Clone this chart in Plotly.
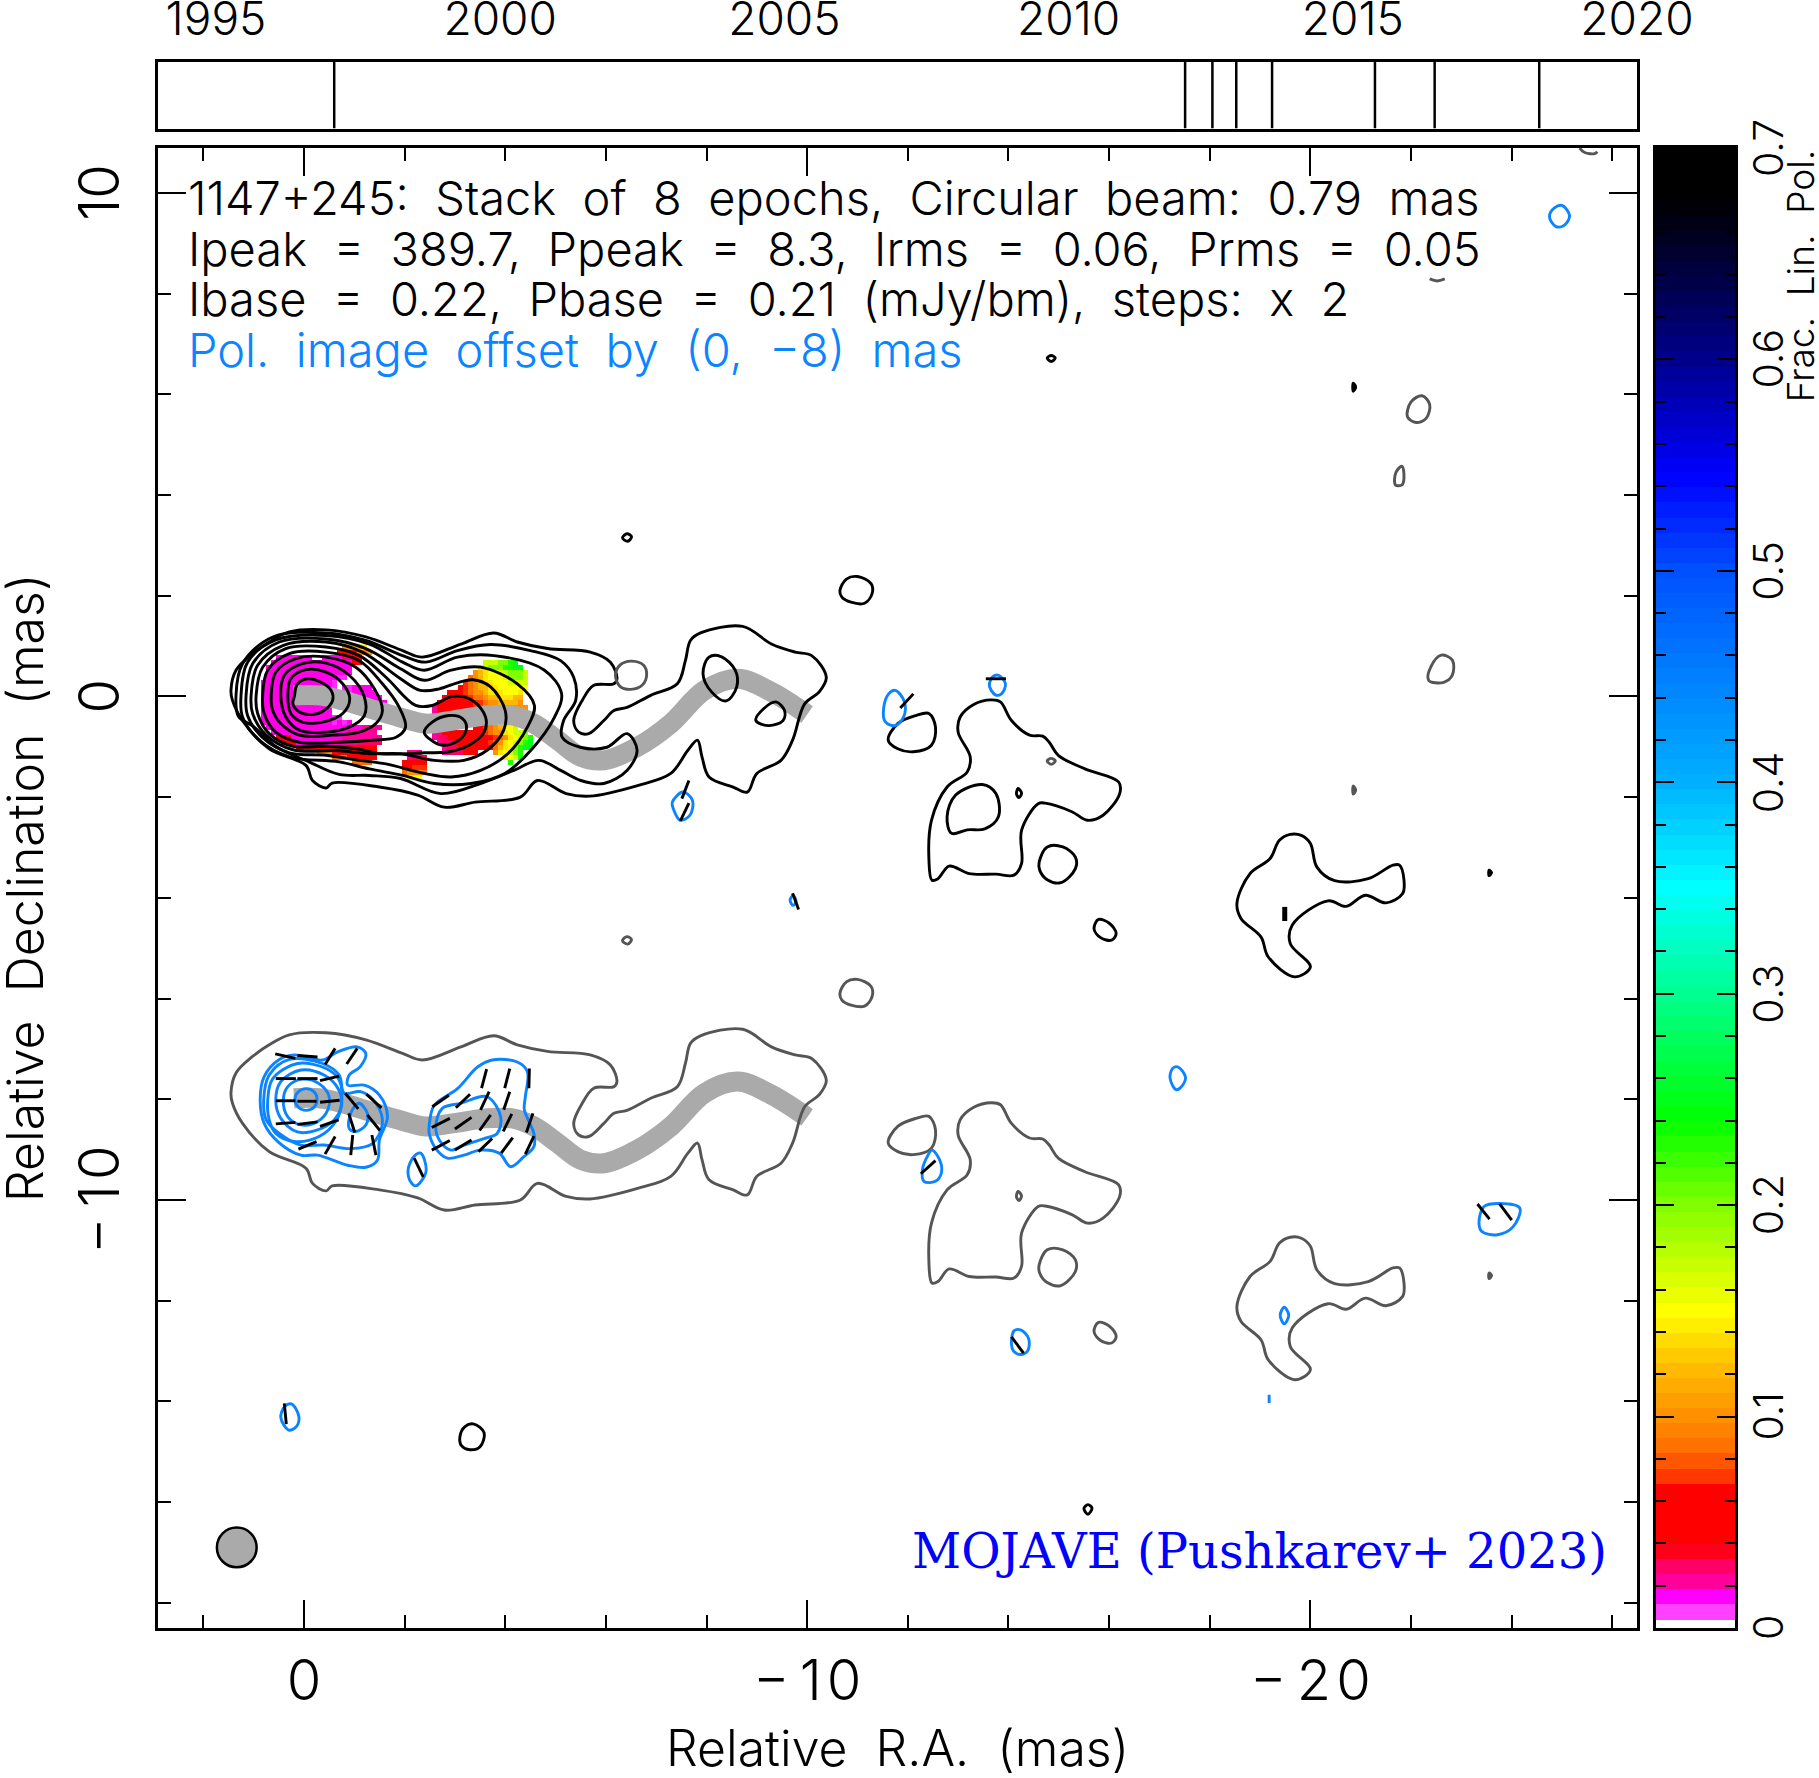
import numpy as np
import plotly.graph_objects as go

# ---------- data (mas, years, fractional polarisation) ----------
EPOCHS = [1997.08, 2012.05, 2012.53, 2012.95, 2013.58, 2015.39, 2016.44, 2018.28]
YEAR_TICKS = [1995, 2000, 2005, 2010, 2015, 2020]
RA_TICKS = [0, -10, -20]
RA_LABELS = ["0", "\u2212\u20091\u200a0", "\u2212\u20092\u200a0"]
DEC_TICKS = [10, 0, -10]
DEC_LABELS = ["10", "0", "\u2212\u20091\u200a0"]
CB_TICKS = [0, .1, .2, .3, .4, .5, .6, .7]
POL_OFFSET = -8
BEAM = 0.79
BEAM_CENTER = (1.335, -16.9)

RIDGE = [(.2,.02),(-.30,.02),(-.77,-.08),(-1.30,-.24),(-1.89,-.41),(-2.42,-.54),(-2.95,-.48),(-3.61,-.38),
         (-4.14,-.38),(-4.57,-.54),(-5.04,-.87),(-5.50,-1.20),(-5.96,-1.27),(-6.63,-1.0),(-7.29,-.54),(-7.96,.12),
         (-8.62,.35),(-9.29,.09),(-10.0,-.36)]

C1 = [(.19,0),(.13,.25),(-.07,.35),(-.34,.28),(-.54,.12),(-.57,-.08),(-.40,-.28),(-.17,-.36),(.09,-.31),(.22,-.15)]
C2 = [(.32,.02),(.26,.35),(-.04,.53),(-.44,.48),(-.77,.25),(-.91,-.05),(-.77,-.34),(-.37,-.51),(.03,-.51),(.26,-.34)]
C3 = [(.46,.02),(.39,.42),(.03,.65),(-.44,.66),(-.90,.42),(-1.20,-.01),(-1.20,-.38),(-.90,-.61),(-.44,-.71),(.09,-.67),(.36,-.41)]
C4 = [(.65,.02),(.56,.48),(.16,.75),(-.44,.78),(-1.03,.58),(-1.40,.15),(-1.56,-.28),(-1.43,-.54),(-1.10,-.71),(-.57,-.77),(.09,-.77),(.46,-.54),(.62,-.28)]
C5 = [(.82,.02),(.72,.52),(.29,.85),(-.44,.88),(-1.10,.71),(-1.56,.25),(-1.89,-.21),(-2.02,-.61),(-1.83,-.81),(-1.36,-.87),(-.70,-.91),(.09,-.91),(.56,-.71),(.79,-.34)]
K2 = [(-2.39,-.71),(-2.55,-.51),(-2.88,-.38),(-3.15,-.44),(-3.23,-.64),(-3.08,-.87),(-2.75,-.97),(-2.49,-.84)]
C6 = [(.95,.02),(.82,.58),(.36,.95),(-.44,.98),(-1.10,.81),(-1.63,.38),(-2.22,-.18),(-2.55,-.18),(-2.95,0),(-3.35,-.08),(-3.61,-.41),(-3.58,-.71),(-3.28,-.97),(-2.88,-1.10),(-2.42,-1.12),(-1.56,-1.14),(-1.03,-1.04),(-.44,-.99),(.22,-.99),(.69,-.74),(.92,-.34)]
C7 = [(1.05,.02),(.92,.62),(.42,1.01),(-.44,1.08),(-1.16,.88),(-1.92,.35),(-2.31,.12),(-2.69,.15),(-3.08,.28),(-3.35,.33),(-3.71,.19),(-4.0,-.28),(-3.97,-.67),(-3.64,-1.07),(-3.18,-1.27),(-2.59,-1.27),(-1.92,-1.14),(-1.30,-1.14),(-.70,-1.08),(.22,-1.06),(.75,-.77),(1.02,-.34)]
C8 = [(1.15,.02),(1.02,.65),(.49,1.08),(-.44,1.14),(-1.23,.95),(-1.92,.55),(-2.39,.32),(-2.92,.52),(-3.51,.58),(-4.24,.25),(-4.58,-.18),(-4.44,-.61),(-4.05,-1.14),(-3.51,-1.47),(-2.92,-1.60),(-2.39,-1.53),(-1.63,-1.34),(-1.10,-1.27),(-.44,-1.17),(.29,-1.12),(.82,-.82),(1.12,-.38)]
C9 = [(1.25,.02),(1.12,.68),(.56,1.12),(-.44,1.21),(-1.30,1.04),(-1.96,.68),(-2.39,.52),(-3.05,.78),(-3.78,.81),(-4.78,.52),(-5.12,.05),(-4.98,-.41),(-4.51,-1.07),(-3.99,-1.53),(-3.32,-1.73),(-2.59,-1.73),(-1.96,-1.57),(-1.30,-1.44),(-.70,-1.30),(.29,-1.20),(.89,-.87),(1.22,-.41)]
C10 = [(1.35,.02),(1.22,.65),(.62,1.18),(-.44,1.26),(-1.23,1.11),(-1.96,.81),(-2.42,.68),(-3.05,.91),(-3.71,1.03),(-4.50,.91),(-5.10,.71),(-5.36,.38),(-5.40,-.08),(-5.16,-.48),(-5.13,-.81),(-5.49,-1.01),(-6.02,-1.01),(-6.42,-.74),(-6.62,-1.07),(-6.42,-1.47),(-5.96,-1.73),(-5.50,-1.67),(-5.10,-1.47),(-4.67,-1.27),(-4.17,-1.47),(-3.51,-1.73),(-2.72,-1.93),(-1.92,-1.63),(-1.30,-1.57),(-.70,-1.55),(-.1,-1.3),(.55,-1.0),(1.0,-.6),(1.3,-.4)]
C11 = [(1.45,.12),(1.35,.52),(1.02,.85),(.69,1.08),(.29,1.28),(-.44,1.32),(-1.23,1.18),(-1.96,.91),(-2.35,.78),(-3.12,1.04),(-3.77,1.26),(-4.24,1.08),(-4.84,.95),(-5.69,.88),(-6.09,.68),(-6.22,.35),(-6.16,.25),(-5.76,.22),(-5.53,-.08),(-5.36,-.48),(-5.46,-.71),(-5.66,-.74),(-5.96,-.48),(-6.16,-.28),(-6.42,-.22),(-6.89,.02),(-7.42,.25),(-7.58,.71),(-7.68,1.11),(-7.88,1.26),(-8.72,1.39),(-9.29,1.04),(-9.76,.88),(-10.09,.81),(-10.38,.38),(-10.24,.09),(-9.95,-.15),(-9.71,-.87),(-9.48,-1.27),(-9.0,-1.53),(-8.81,-1.90),(-8.53,-1.80),(-8.05,-1.60),(-7.91,-1.20),(-7.82,-.87),(-7.63,-1.07),(-7.29,-1.53),(-6.63,-1.77),(-5.68,-1.98),(-5.21,-1.93),(-4.64,-1.67),(-4.30,-2.0),(-3.40,-2.10),(-2.79,-2.20),(-2.26,-1.96),(-1.50,-1.80),(-.56,-1.72),(-.44,-1.82),(-.17,-1.67),(-.04,-1.37),(.69,-1.04),(1.22,-.48),(1.42,-.08)]
INNER_A = [(-8.98,-.48),(-9.14,-.24),(-9.38,-.11),(-9.55,-.28),(-9.52,-.48),(-9.24,-.58)]
INNER_B = [(-7.93,.45),(-8.05,.78),(-8.29,.79),(-8.57,.52),(-8.60,.19),(-8.39,-.09),(-8.10,.09)]
INNER_C = [(-12.87,-2.72),(-12.78,-2.39),(-12.95,-1.96),(-13.48,-1.75),(-13.75,-1.93),(-13.80,-2.39),(-13.53,-2.63),(-13.18,-2.65)]
RING_1 = [(-10.65,2.10),(-10.78,2.33),(-11.0,2.38),(-11.27,2.24),(-11.29,2.04),(-11.14,1.85),(-10.87,1.87),(-10.69,1.97)]
RING_2 = [(-11.61,-.87),(-11.80,-.54),(-12.16,-.38),(-12.42,-.34),(-12.55,-.61),(-12.47,-.97),(-12.11,-1.10),(-11.80,-1.04)]
RING_3 = [(-14.61,-3.29),(-14.77,-2.99),(-15.08,-2.99),(-15.33,-3.19),(-15.33,-3.42),(-15.04,-3.70),(-14.77,-3.64),(-14.62,-3.45)]
RING_4 = [(-15.70,-4.61),(-15.79,-4.43),(-16.01,-4.51),(-16.14,-4.71),(-16.05,-4.84),(-15.83,-4.79)]
ISLAND_1 = [(-13.66,-.07),(-13.31,-.16),(-13.04,-.41),(-13.0,-.71),(-13.24,-1.20),(-13.18,-1.50),(-12.78,-1.80),(-12.47,-2.46),(-12.42,-3.25),(-12.48,-3.65),(-12.60,-3.62),(-12.82,-3.37),(-13.22,-3.52),(-13.75,-3.53),(-14.11,-3.55),(-14.26,-3.32),(-14.26,-2.66),(-14.59,-2.13),(-14.73,-2.12),(-15.26,-2.29),(-15.57,-2.46),(-15.88,-2.36),(-16.21,-1.93),(-16.19,-1.70),(-15.52,-1.44),(-14.99,-1.17),(-14.81,-.91),(-14.68,-.79),(-14.42,-.77),(-14.06,-.48),(-13.84,-.11)]
ISLAND_2 = [(-19.60,-2.74),(-19.38,-2.86),(-19.20,-3.22),(-18.80,-3.52),(-18.54,-4.11),(-18.62,-4.41),(-19.02,-4.78),(-19.16,-5.17),(-19.69,-5.57),(-20.0,-5.37),(-19.60,-4.91),(-19.64,-4.54),(-20.35,-4.06),(-20.71,-4.17),(-21.09,-3.95),(-21.50,-4.10),(-21.83,-3.92),(-21.86,-3.65),(-21.77,-3.35),(-21.64,-3.35),(-21.15,-3.62),(-20.48,-3.66),(-20.13,-3.39),(-20.0,-2.92),(-19.82,-2.76)]
SPOT_1 = [(-14.19,-1.83),(-14.26,-1.92),(-14.21,-2.01),(-14.16,-1.94)]
SPOT_2 = [(-6.33,3.15),(-6.42,3.23),(-6.51,3.17),(-6.43,3.08)]
SPOT_3 = [(-14.77,6.72),(-14.85,6.77),(-14.93,6.72),(-14.85,6.65)]
SPOT_4 = [(-20.85,6.22),(-20.90,6.14),(-20.85,6.06)]
SPOT_5 = [(-23.55,-3.45),(-23.6,-3.5),(-23.55,-3.56)]
LOW_RING = [(-3.1,-14.7),(-3.2,-14.5),(-3.38,-14.45),(-3.58,-14.62),(-3.5,-14.9),(-3.3,-14.96),(-3.13,-14.88)]
LOW_SPOT = [(-15.50,-16.13),(-15.58,-16.05),(-15.66,-16.12),(-15.58,-16.24)]
GREY_RING_1 = [(-21.93,5.55),(-22.0,5.85),(-22.22,5.97),(-22.37,5.80),(-22.3,5.52),(-22.1,5.44)]
GREY_RING_2 = [(-21.69,4.2),(-21.70,4.45),(-21.82,4.57),(-21.86,4.35),(-21.82,4.2)]
GREY_RING_3 = [(-22.35,.32),(-22.4,.6),(-22.6,.82),(-22.82,.72),(-22.82,.42),(-22.65,.28)]
GREY_RING_4 = [(-6.19,.42),(-6.28,.62),(-6.5,.70),(-6.75,.62),(-6.81,.42),(-6.72,.22),(-6.5,.14),(-6.28,.2)]
OPEN_ARC_1 = [(-22.37,8.29),(-22.52,8.25),(-22.67,8.29)]
OPEN_ARC_2 = [(-25.35,10.89),(-25.45,10.80),(-25.65,10.78),(-25.7,10.82)]

P1 = [(.18,0),(.11,.15),(-.04,.21),(-.2,.15),(-.26,0),(-.2,-.16),(-.04,-.22),(.11,-.16)]
P2 = [(.41,-.02),(.32,.25),(.03,.40),(-.30,.31),(-.50,.05),(-.44,-.28),(-.2,-.48),(.06,-.51),(.32,-.35)]
P3 = [(.56,-.02),(.46,.35),(.06,.58),(-.40,.48),(-.68,.21),(-.75,-.08),(-.60,-.41),(-.27,-.61),(.13,-.65),(.46,-.38)]
P4 = [(.72,-.02),(.62,.41),(.13,.71),(-.44,.61),(-.70,.38),(-.75,-.05),(-.65,-.41),(-.30,-.74),(.19,-.84),(.56,-.68),(.69,-.41)]
P5 = [(.80,-.02),(.69,.48),(.29,.79),(-.37,.71),(-.70,.48),(-.80,.12),(-1.13,.15),(-1.43,-.08),(-1.56,-.48),(-1.36,-.88),(-.93,-.98),(-.40,-.91),(.06,-.91),(.49,-.68),(.75,-.41)]
P6 = [(.87,-.02),(.79,.45),(.49,.79),(.19,.88),(-.37,.78),(-.67,.94),(-1.06,1.04),(-1.23,.91),(-1.12,.65),(-.90,.48),(-.87,.28),(-1.20,.28),(-1.50,.08),(-1.66,-.35),(-1.50,-.81),(-1.46,-1.21),(-1.23,-1.35),(-.87,-1.31),(-.27,-1.11),(.06,-1.11),(.52,-.84),(.79,-.48)]
P_BLOB = [(-.90,-.38),(-1.0,-.15),(-1.10,-.08),(-1.26,-.28),(-1.23,-.51),(-1.03,-.64),(-.90,-.58)]
P7 = [(-2.49,-.51),(-2.59,-.12),(-3.05,.21),(-3.45,.64),(-3.74,.78),(-4.24,.74),(-4.44,.55),(-4.40,.05),(-4.38,-.21),(-4.57,-.68),(-4.57,-.94),(-4.37,-1.14),(-4.11,-1.34),(-3.88,-1.07),(-3.51,-1.01),(-3.18,-1.11),(-2.85,-1.17),(-2.62,-.98),(-2.49,-.68)]
P8 = [(-2.62,-.54),(-2.75,-.18),(-3.12,-.08),(-3.64,.05),(-3.91,-.35),(-3.84,-.68),(-3.58,-.78),(-3.18,-.91),(-2.92,-1.01),(-2.69,-.81)]
P9 = [(-2.07,-1.40),(-2.19,-1.13),(-2.32,-1.07),(-2.43,-1.40),(-2.35,-1.60),(-2.22,-1.72),(-2.12,-1.64)]
P10 = [(-17.21,.43),(-17.27,.62),(-17.37,.64),(-17.52,.43),(-17.42,.23),(-17.33,.19)]
P11 = [(-12.29,-1.40),(-12.38,-1.15),(-12.48,-1.01),(-12.63,-1.2),(-12.67,-1.45),(-12.55,-1.63),(-12.32,-1.63)]
P12 = [(-14.06,-4.87),(-14.11,-4.60),(-14.24,-4.58),(-14.40,-4.75),(-14.38,-5.0),(-14.24,-5.07),(-14.1,-5.0)]
P13 = [(-23.35,-2.46),(-23.45,-2.13),(-23.76,-2.07),(-24.16,-2.16),(-24.03,-2.53),(-23.72,-2.69),(-23.41,-2.63)]
P14 = [(-19.40,-4.29),(-19.48,-4.13),(-19.57,-4.29),(-19.48,-4.46)]
P15 = [(-19.18,-5.87),(-19.18,-6.03)]
P16 = [(-11.52,7.77),(-11.62,8.05),(-11.75,8.12),(-11.93,7.9),(-11.92,7.6),(-11.75,7.42),(-11.55,7.5)]
P17 = [(-13.62,8.22),(-13.70,8.4),(-13.8,8.42),(-13.94,8.25),(-13.86,8.05),(-13.74,8.03)]
P18 = [(-7.32,5.90),(-7.53,6.10),(-7.72,5.94),(-7.67,5.64),(-7.48,5.54),(-7.34,5.77)]
P19 = [(.46,-6.32),(.38,-6.1),(.25,-6.05),(.1,-6.3),(.15,-6.5),(.3,-6.57)]
P20 = [(-9.66,3.95),(-9.72,4.05),(-9.78,3.92),(-9.72,3.85)]
P21 = [(-24.75,17.53),(-24.85,17.7),(-25.0,17.75),(-25.15,17.55),(-25.05,17.36),(-24.88,17.33)]

# polarisation-direction ticks: x0, y0, x1, y1, relative to the offset pol. image
EVPA = [(.57,.90,.17,.81),(.13,.87,-.27,.84),(-.42,.69,-.62,1.01),(-.85,.70,-1.06,1.01),
        (.56,.41,.16,.41),(.13,.41,-.27,.41),(-.32,.37,-.70,.46),
        (.56,-.03,.17,-.03),(.13,-.04,-.25,-.04),(-.32,-.06,-.71,-.02),(-.82,.12,-1.08,-.19),(-1.24,.10,-1.54,-.17),
        (.56,-.49,.17,-.46),(.13,-.50,-.27,-.45),(-.32,-.54,-.69,-.41),(-.89,-.28,-1.01,-.66),(-1.26,-.31,-1.51,-.62),
        (.11,-.99,-.25,-.84),(-.42,-1.09,-.62,-.74),(-.93,-1.11,-.97,-.71),(-1.43,-1.11,-1.35,-.71),
        (-2.55,-.15,-2.88,.08),(-3.02,-.17,-3.30,.10),(-3.53,.22,-3.63,.60),(-3.99,.22,-4.09,.61),(-4.47,.22,-4.48,.61),
        (-2.54,-.56,-2.90,-.38),(-3.00,-.59,-3.33,-.36),(-3.51,-.21,-3.68,.15),(-3.97,-.21,-4.09,.15),
        (-3.49,-.62,-3.71,-.31),(-3.96,-.64,-4.13,-.29),(-4.42,-.66,-4.55,-.28),
        (-2.54,-1.01,-2.90,-.82),(-3.00,-1.01,-3.33,-.81),(-3.47,-1.04,-3.74,-.78),(-3.92,-1.07,-4.15,-.76),(-4.40,-1.09,-4.57,-.73),
        (-2.19,-1.17,-2.37,-1.54),
        (-11.85,7.77,-12.11,8.05),(-13.55,8.35,-13.95,8.35),(-7.48,5.53,-7.65,5.88),(-7.51,5.97,-7.65,6.33),
        (-12.26,-1.48,-12.55,-1.22),(-14.06,-4.72,-14.30,-5.04),(-23.32,-2.08,-23.56,-2.38),(-23.76,-2.08,-24.0,-2.40),
        (-9.71,4.09,-9.83,3.77),(.39,-6.04,.35,-6.45)]
EVPA_THICK = [(-19.49,3.82,-19.49,3.54)]

# fractional polarisation pixels: letter = value class; rows are (row, first column, letters)
FP_CLASS = dict(a=.012, b=.016, c=.022, d=.03, e=.05, f=.07, g=.085, h=.10, i=.12, j=.14, k=.15,
                l=.17, m=.2, n=.23, o=.25)
FP_PIXEL = 0.1
FP_X0, FP_Y0 = 1.0, 0.98
FP_NX, FP_NY = 57, 28
FP_ROWS = [
 (0,18,'hhiij'),(1,17,'eeeeggh'),(2,5,'bbbbbbb'),(2,14,'bbbbddee'),(3,4,'bbbbbbbbbbbbbbbbee'),
 (4,3,'bbbbbbbbbbbbbbbbb'),(5,3,'bbbbbbbbbbbbbbbbb'),(6,3,'bbbbbbbbbbbbbbaa'),(7,2,'bbbbbbbbbbbbbba'),
 (8,2,'bbbbbbbbbbbbbba'),(8,18,'aabbbb'),(9,2,'bbbbbbbbbbbbbb'),(9,18,'aabbbbb'),(10,2,'bbbbbbbbbbbbbb'),(10,20,'abbbbb'),
 (11,2,'bbbbbbbbbbbbbb'),(11,21,'bbbbbb'),(12,2,'bbbbbbbbbbbbbb'),(12,22,'bbbbb'),(13,2,'bbbbbbbbbbbbbb'),
 (14,2,'bbbbbbbbbbbbbbaa'),(15,2,'bbbbbbbbbbbbbbabab'),(16,3,'bbbbbbbbbbbbbbbbbbbcccc'),(17,4,'bbbbbbbbbbbbbbbcccccc'),
 (18,5,'eeebbbbbbbbbbcccccccc'),(19,6,'eeebbbbbbbcccccddddd'),(20,9,'eeeeeeeeeeeeeeee'),(21,13,'hhheeeeeeeee'),
 (22,16,'gggeeeeee'),(23,20,'gggg'),
 (21,31,'ccc'),(22,31,'cddd'),(23,30,'eeeee'),(24,30,'eefff'),(25,30,'ghhhg'),(26,31,'kkk'),
 (3,46,'lllmmno'),(4,45,'llmmmnnoo'),(5,44,'hijkkllmmml'),(6,43,'ghijkkklmmml'),(7,42,'fghijjkkkllll'),
 (8,41,'efghiijjkkkkkk'),(9,39,'eeefghhijjjkkkj'),(10,38,'eeeeefgghiijjjii'),(11,37,'eeeeeeeffghhiiiih'),
 (12,36,'ceeeeeeeffgghhhhhhh'),(13,36,'ceeeeeeefghhhhhhhg'),
 (16,44,'eefghikkl'),(17,36,'cceeeeeeeefghhjkllm'),(18,36,'cddeeeeeeeeefghjklmn'),(19,37,'cddeeeeeeefghjklmno'),
 (20,38,'cddeeeeeeegijkmnoo'),(21,38,'cdddeee'),(21,48,'hjklmn'),(22,50,'jkln'),(23,51,'n'),
]

# colour bar: value -> colour
CB_STOPS = [(0,'#ffffff'),(.0045,'#ffffff'),(.0046,'#ff40ff'),(.0105,'#ff40ff'),(.0145,'#ff00ff'),(.02,'#ff00a8'),
            (.03,'#ff0060'),(.0385,'#ff0000'),(.067,'#ff0000'),(.07,'#ff3000'),(.085,'#ff7000'),(.10,'#ff9000'),
            (.125,'#ffc000'),(.15,'#ffff00'),(.2,'#80ff00'),(.24,'#00ff00'),(.30,'#00ff90'),(.35,'#00ffff'),
            (.4,'#00b0ff'),(.5,'#0050ff'),(.545,'#0000ff'),(.6,'#00008c'),(.675,'#000000'),(.7,'#000000')]
CB_MAX = 0.7
CB_STEP = 0.00714
CB_WHITE = 0.004

NB = "\u00a0\u00a0"
TITLE_LINES = [NB.join(["1147+245:", "Stack", "of", "8", "epochs,", "Circular", "beam:", "0.79", "mas"]),
               NB.join(["Ipeak", "=", "389.7,", "Ppeak", "=", "8.3,", "Irms", "=", "0.06,", "Prms", "=", "0.05"]),
               NB.join(["Ibase", "=", "0.22,", "Pbase", "=", "0.21", "(mJy/bm),", "steps:", "x", "2"]),
               NB.join(["Pol.", "image", "offset", "by", "(0,", "\u22128)", "mas"])]
CREDIT = "MOJAVE\u00a0(Pushkarev+\u00a02023)"

# ---------- styling ----------
W, H = 1819, 1778
FONT = "Inter"
BLUE = "#0a84ff"
GREY = "#555555"
RIDGE_GREY = "#aaaaaa"
LW = 2.9


def chain(paths, dy=0, close=True):
    xs, ys = [], []
    for p in paths:
        pts = list(p) + ([p[0]] if close else [])
        xs += [q[0] for q in pts] + [None]
        ys += [q[1] + dy for q in pts] + [None]
    return xs, ys


def segs(items, dy=0):
    xs, ys = [], []
    for a, b, c, d in items:
        xs += [a, c, None]
        ys += [b + dy, d + dy, None]
    return xs, ys


fig = go.Figure()
cscale = [[v / CB_MAX, c] for v, c in CB_STOPS]

# fractional polarisation image
grid = np.full((FP_NY, FP_NX), np.nan)
for row, col, letters in FP_ROWS:
    for k, ch in enumerate(letters):
        grid[row, col + k] = FP_CLASS[ch]
fig.add_trace(go.Heatmap(x=FP_X0 - FP_PIXEL * np.arange(FP_NX), y=FP_Y0 - FP_PIXEL * np.arange(FP_NY), z=grid,
                         colorscale=cscale, zmin=0, zmax=CB_MAX, showscale=False, hoverinfo='skip',
                         xaxis='x', yaxis='y'))

# ridge lines
for dy in (0, POL_OFFSET):
    x, y = chain([RIDGE], dy, close=False)
    fig.add_trace(go.Scatter(x=x, y=y, mode='lines', line=dict(color=RIDGE_GREY, width=20, shape='spline'),
                             hoverinfo='skip', showlegend=False))

I_SHARED = [C11, RING_1, RING_2, RING_3, RING_4, ISLAND_1, ISLAND_2, SPOT_1, SPOT_2, SPOT_3, SPOT_4, SPOT_5]
I_ONLY = [C1, C2, C3, C4, C5, K2, C6, C7, C8, C9, C10, INNER_A, INNER_B, INNER_C, LOW_RING, LOW_SPOT]
GREY_ONLY = [GREY_RING_1, GREY_RING_2, GREY_RING_3, GREY_RING_4]
P_ALL = [P1, P2, P3, P4, P5, P6, P_BLOB, P7, P8, P9, P10, P11, P12, P13, P14, P15, P16, P17, P18, P19, P20, P21]


def lines(x, y, color, width=LW, shape='spline'):
    fig.add_trace(go.Scatter(x=x, y=y, mode='lines', line=dict(color=color, width=width, shape=shape, smoothing=1),
                             hoverinfo='skip', showlegend=False))


x, y = chain(I_SHARED + I_ONLY)
lines(x, y, 'black')
x, y = chain(I_SHARED, POL_OFFSET)
lines(x, y, GREY)
x, y = chain(GREY_ONLY)
lines(x, y, GREY)
x, y = chain([OPEN_ARC_1, OPEN_ARC_2], close=False)
lines(x, y, GREY)
x, y = chain(P_ALL, POL_OFFSET)
lines(x, y, BLUE)
x, y = segs(EVPA, POL_OFFSET)
lines(x, y, 'black', shape='linear')
x, y = segs(EVPA_THICK, POL_OFFSET)
lines(x, y, 'black', width=5, shape='linear')

# epochs strip
ex, ey = [], []
for e in EPOCHS:
    ex += [e, e, None]
    ey += [0, 1, None]
fig.add_trace(go.Scatter(x=ex, y=ey, mode='lines', line=dict(color='black', width=2.5), xaxis='x2', yaxis='y2',
                         hoverinfo='skip', showlegend=False))

# colour bar
edges = np.concatenate([[0], np.arange(CB_WHITE, CB_MAX, CB_STEP), [CB_MAX]])
centers = 0.5 * (edges[:-1] + edges[1:])
centers[0] = 0
fig.add_trace(go.Heatmap(x=[0, 1], y=edges, z=[[c] for c in centers], colorscale=cscale, zmin=0, zmax=CB_MAX,
                         showscale=False, hoverinfo='skip', xaxis='x3', yaxis='y3'))

PX0, PX1 = 158 / W, 1637 / W
PY0, PY1 = 1 - 1628 / H, 1 - 148 / H
axis_line = dict(showline=True, linecolor='black', linewidth=2.8, mirror=True, showgrid=False, zeroline=False, automargin=False)
all_ticks = {**axis_line, 'mirror': 'allticks'}

layout = dict(
    width=W, height=H, margin=dict(l=0, r=0, t=0, b=0, autoexpand=False), paper_bgcolor='white', plot_bgcolor='rgba(0,0,0,0)',
    showlegend=False,
    font=dict(family=FONT, color='black'),
    xaxis=dict(domain=[PX0, PX1], range=[2.90, -26.49], anchor='y', tickmode='array', tickvals=RA_TICKS, ticktext=RA_LABELS,
               ticks='inside', ticklen=28, tickwidth=2.4, tickcolor='black',
               minor=dict(ticks='inside', ticklen=13, tickwidth=2.4, tickcolor='black', dtick=2, tick0=0, showgrid=False),
               tickfont=dict(size=56, family=FONT, weight=300), ticklabelstandoff=2,
               title=dict(text="Relative\u00a0\u00a0R.A.\u00a0\u00a0(mas)", font=dict(size=50, family=FONT, weight=300), standoff=20),
               **all_ticks),
    yaxis=dict(domain=[PY0, PY1], range=[-18.50, 10.89], anchor='x', tickmode='array', tickvals=DEC_TICKS, ticktext=DEC_LABELS,
               ticks='inside', ticklen=28, tickwidth=2.4, tickcolor='black',
               minor=dict(ticks='inside', ticklen=13, tickwidth=2.4, tickcolor='black', dtick=2, tick0=0, showgrid=False),
               showticklabels=False,
               **all_ticks),
    xaxis2=dict(domain=[PX0, PX1], range=[1993.98, 2020.0], anchor='y2', side='top', tickmode='array',
                tickvals=YEAR_TICKS, ticktext=[str(v) for v in YEAR_TICKS], ticks='', ticklabelstandoff=6,
                tickfont=dict(size=46, family=FONT, weight=300), **axis_line),
    yaxis2=dict(domain=[1 - 128.5 / H, 1 - 62 / H], range=[0, 1], anchor='x2', showticklabels=False, ticks='', **axis_line),
    xaxis3=dict(domain=[1656 / W, 1735 / W], range=[0, 1], anchor='y3', showticklabels=False, ticks='', **axis_line),
    yaxis3=dict(domain=[PY0, PY1], range=[0, CB_MAX], anchor='x3', side='right', tickmode='array', tickvals=CB_TICKS,
                ticks='inside', ticklen=18, tickwidth=2.4, tickcolor='black',
                minor=dict(ticks='inside', ticklen=10, tickwidth=2.4, tickcolor='black', dtick=.02, tick0=0, showgrid=False),
                showticklabels=False,
                **all_ticks),
    shapes=[dict(type='circle', xref='x', yref='y', x0=BEAM_CENTER[0] + BEAM / 2, x1=BEAM_CENTER[0] - BEAM / 2,
                 y0=BEAM_CENTER[1] - BEAM / 2, y1=BEAM_CENTER[1] + BEAM / 2, fillcolor=RIDGE_GREY,
                 line=dict(color='black', width=2.5))],
)
annotations = []
for txt, ypx, col in zip(TITLE_LINES, (197, 248, 299, 350), ('black', 'black', 'black', BLUE)):
    annotations.append(dict(text=txt, xref='paper', yref='paper', x=186 / W, y=1 - ypx / H, xanchor='left', yanchor='middle',
                            showarrow=False, font=dict(size=47, family=FONT, color=col, weight=300)))
annotations.append(dict(text=CREDIT, xref='paper', yref='paper', x=1609 / W, y=1 - 1551 / H, xanchor='right', yanchor='middle',
                        showarrow=False, font=dict(size=48, family="DejaVu Serif", color='#0000ff')))
annotations.append(dict(text="Frac.\u00a0\u00a0Lin.\u00a0\u00a0Pol.", xref='paper', yref='paper', x=1.0035, y=1 - 147 / H, xanchor='right', yanchor='top',
                        textangle=-90, showarrow=False, font=dict(size=37, family=FONT, weight=300)))
# Declination and colour-bar tick labels: rotated, centred on their ticks
for v, s in zip(DEC_TICKS, DEC_LABELS):
    annotations.append(dict(text=s, xref='paper', yref='y', x=99 / W, y=v, xanchor='center', yanchor='middle', textangle=-90,
                            showarrow=False, font=dict(size=56, family=FONT, weight=300)))
for v in CB_TICKS:
    annotations.append(dict(text=f"{v:g}", xref='paper', yref='y3', x=1768 / W, y=v, xanchor='center', yanchor='middle', textangle=-90,
                            showarrow=False, font=dict(size=41, family=FONT, weight=300)))
annotations.append(dict(text="Relative\u00a0\u00a0Declination\u00a0\u00a0(mas)", xref='paper', yref='paper', x=25 / W, y=1 - 888 / H,
                        xanchor='center', yanchor='middle', textangle=-90, showarrow=False,
                        font=dict(size=50, family=FONT, weight=300)))
layout['annotations'] = annotations
fig.update_layout(**layout)

fig.write_html("out.html", config={'displayModeBar': False}, post_script="document.body.style.margin='0';")
